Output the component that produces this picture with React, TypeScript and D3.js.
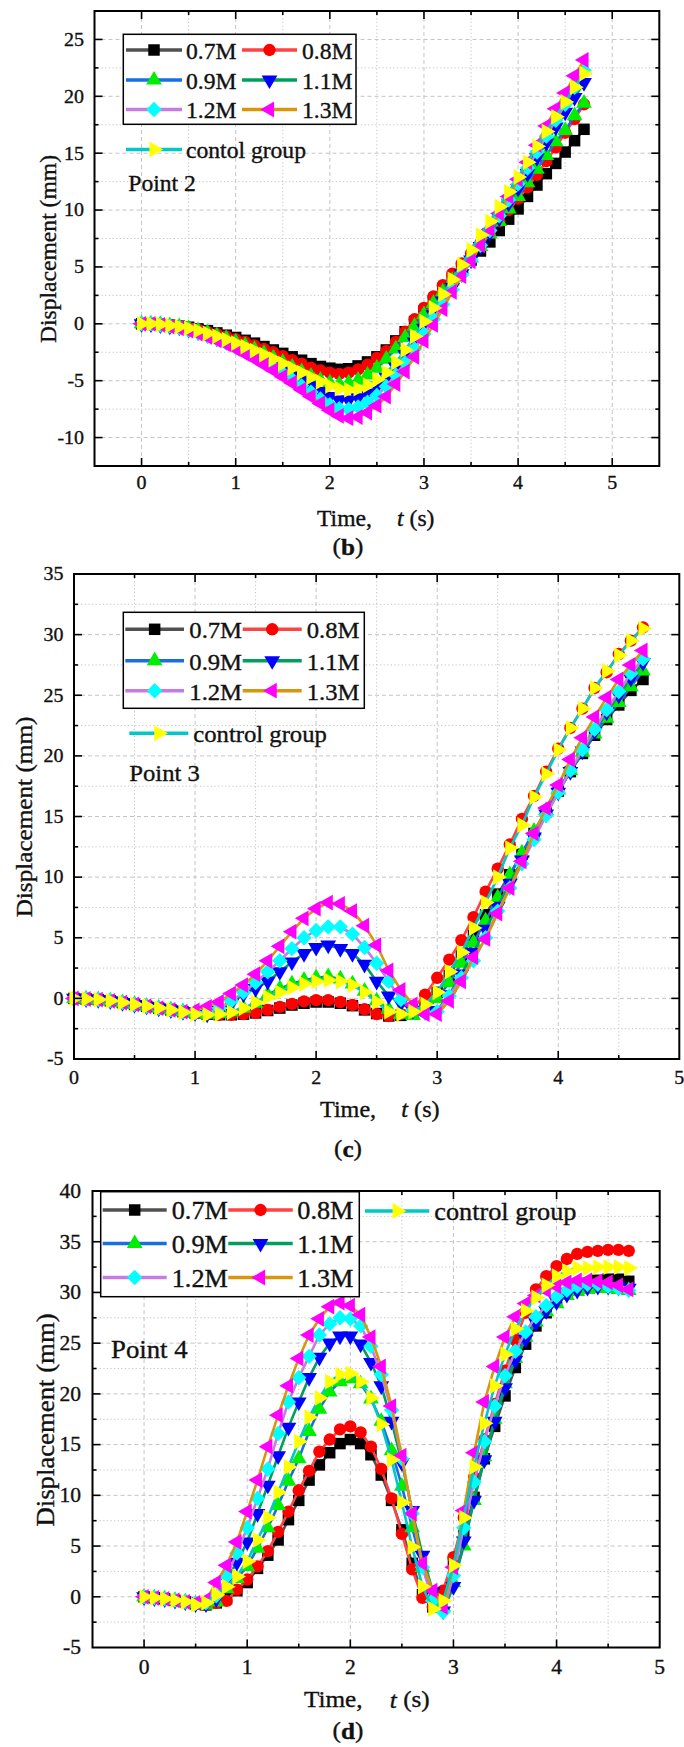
import React from 'react';
import * as d3 from 'd3';

const W = 684;
const H = 1747;
const FONT = '"Liberation Serif", "Times New Roman", Times, serif';
const INK = '#111111';
const SX = 1.05; // the source font is a little wider than Times

// sample times (s)
const timeS = [
  0, 0.1, 0.2, 0.3, 0.4, 0.5, 0.6, 0.7, 0.8, 0.9,
  1.0, 1.1, 1.2, 1.3, 1.4, 1.5, 1.6, 1.7, 1.8, 1.9,
  2.0, 2.1, 2.2, 2.3, 2.4, 2.5, 2.6, 2.7, 2.8, 2.9,
  3.0, 3.1, 3.2, 3.3, 3.4, 3.5, 3.6, 3.7, 3.8, 3.9,
  4.0, 4.1, 4.2, 4.3, 4.4, 4.5, 4.6, 4.7,
];

const namesP2 = ['0.7M', '0.8M', '0.9M', '1.1M', '1.2M', '1.3M', 'contol group'];
const namesP3 = ['0.7M', '0.8M', '0.9M', '1.1M', '1.2M', '1.3M', 'control group'];
const namesP4 = ['0.7M', '0.8M', '0.9M', '1.1M', '1.2M', '1.3M', 'control group'];

const xTicksB = [0, 1, 2, 3, 4, 5];
const xTicksC = [0, 1, 2, 3, 4, 5];
const xTicksD = [0, 1, 2, 3, 4, 5];
const yTicksB = [-10, -5, 0, 5, 10, 15, 20, 25];
const yTicksC = [-5, 0, 5, 10, 15, 20, 25, 30, 35];
const yTicksD = [-5, 0, 5, 10, 15, 20, 25, 30, 35, 40];

// Point 2 displacement (mm)
const p2M07 = [0, 0, -0.05, -0.1, -0.2, -0.3, -0.45, -0.6, -0.8, -1.0, -1.2, -1.45, -1.7, -2.0, -2.3, -2.6, -2.9, -3.2, -3.5, -3.75, -3.9, -4.0, -3.95, -3.7, -3.35, -2.9, -2.3, -1.5, -0.7, 0.2, 1.1, 2.0, 2.9, 3.8, 4.7, 5.6, 6.4, 7.2, 8.2, 9.2, 10.1, 11.2, 12.2, 13.2, 14.1, 15.1, 16.1, 17.1];
const p2M08 = [0, 0, -0.05, -0.1, -0.2, -0.35, -0.5, -0.7, -0.9, -1.1, -1.35, -1.6, -1.9, -2.2, -2.5, -2.85, -3.2, -3.5, -3.85, -4.1, -4.3, -4.4, -4.3, -4.0, -3.6, -3.0, -2.4, -1.6, -0.7, 0.4, 1.4, 2.4, 3.4, 4.4, 5.3, 6.2, 7.1, 8.0, 9.0, 10.0, 11.0, 12.0, 13.1, 14.3, 15.5, 16.8, 18.0, 19.3];
const p2M09 = [0, 0, -0.05, -0.15, -0.25, -0.4, -0.6, -0.8, -1.05, -1.3, -1.6, -1.9, -2.25, -2.6, -3.0, -3.4, -3.8, -4.2, -4.6, -4.95, -5.2, -5.3, -5.2, -4.95, -4.5, -3.9, -3.1, -2.2, -1.2, -0.2, 0.8, 1.8, 2.8, 3.8, 4.8, 5.8, 6.8, 7.9, 9.0, 10.1, 11.2, 12.4, 13.6, 14.8, 16.0, 17.0, 18.3, 19.4];
const p2M11 = [0, 0, -0.1, -0.2, -0.3, -0.5, -0.7, -0.95, -1.25, -1.55, -1.9, -2.25, -2.65, -3.05, -3.5, -3.95, -4.45, -4.95, -5.45, -5.95, -6.4, -6.7, -6.7, -6.5, -6.1, -5.5, -4.7, -3.8, -2.7, -1.6, -0.4, 0.8, 2.0, 3.2, 4.4, 5.6, 6.8, 8.0, 9.3, 10.6, 11.9, 13.2, 14.6, 15.9, 17.3, 18.6, 19.9, 21.2];
const p2M12 = [0, 0, -0.1, -0.2, -0.35, -0.55, -0.8, -1.05, -1.35, -1.7, -2.05, -2.45, -2.9, -3.35, -3.85, -4.35, -4.9, -5.45, -6.0, -6.6, -7.1, -7.45, -7.5, -7.3, -6.9, -6.3, -5.5, -4.5, -3.4, -2.2, -0.9, 0.4, 1.7, 3.0, 4.3, 5.6, 6.9, 8.2, 9.5, 10.9, 12.3, 13.7, 15.1, 16.5, 17.9, 19.3, 20.8, 22.3];
const p2M13 = [0, 0, -0.1, -0.25, -0.4, -0.6, -0.85, -1.15, -1.45, -1.8, -2.2, -2.65, -3.1, -3.6, -4.1, -4.65, -5.2, -5.8, -6.4, -7.0, -7.6, -8.1, -8.3, -8.2, -7.8, -7.2, -6.4, -5.3, -4.2, -2.9, -1.5, -0.1, 1.3, 2.8, 4.2, 5.5, 6.9, 8.3, 9.7, 11.2, 12.7, 14.2, 15.7, 17.4, 18.9, 20.3, 21.8, 23.2];
const p2Ctrl = [0, 0, -0.05, -0.15, -0.25, -0.4, -0.6, -0.85, -1.1, -1.4, -1.7, -2.0, -2.35, -2.7, -3.1, -3.5, -3.9, -4.3, -4.7, -5.1, -5.45, -5.7, -5.8, -5.7, -5.4, -4.9, -4.3, -3.4, -2.3, -1.1, 0.2, 1.4, 2.6, 3.9, 5.2, 6.5, 7.8, 9.0, 10.3, 11.6, 12.9, 14.2, 15.6, 16.9, 18.2, 19.5, 20.8, 22.0];

// Point 3 displacement (mm)
const p3M07 = [0, -0.05, -0.1, -0.2, -0.35, -0.5, -0.65, -0.8, -0.95, -1.1, -1.2, -1.3, -1.35, -1.35, -1.3, -1.2, -1.0, -0.8, -0.55, -0.4, -0.3, -0.3, -0.4, -0.6, -0.95, -1.25, -1.45, -1.4, -1.2, -0.6, 0.5, 1.9, 3.5, 5.2, 6.9, 8.6, 10.2, 11.9, 13.6, 15.4, 17.1, 18.7, 20.2, 21.7, 23.0, 24.2, 25.4, 26.3];
const p3M08 = [0, -0.05, -0.1, -0.2, -0.35, -0.5, -0.65, -0.8, -0.95, -1.1, -1.2, -1.3, -1.35, -1.35, -1.3, -1.2, -0.95, -0.7, -0.45, -0.25, -0.15, -0.15, -0.3, -0.55, -0.9, -1.3, -1.45, -1.3, -0.8, 0.3, 1.7, 3.2, 4.8, 6.7, 8.8, 10.7, 12.7, 14.8, 16.7, 18.7, 20.6, 22.3, 23.9, 25.6, 26.9, 28.4, 29.5, 30.6];
const p3M09 = [0, -0.05, -0.1, -0.2, -0.35, -0.5, -0.65, -0.8, -0.95, -1.1, -1.2, -1.3, -1.25, -1.1, -0.8, -0.4, 0.3, 0.8, 1.2, 1.5, 1.7, 1.8, 1.6, 1.2, 0.6, -0.2, -0.9, -1.3, -1.4, -1.0, 0.0, 1.3, 2.9, 4.6, 6.4, 8.3, 10.2, 12.0, 13.8, 15.5, 17.2, 18.8, 20.3, 21.8, 23.1, 24.4, 25.7, 27.0];
const p3M11 = [0, -0.05, -0.1, -0.2, -0.35, -0.5, -0.65, -0.8, -0.95, -1.1, -1.2, -1.3, -1.0, -0.4, 0.35, 0.8, 1.4, 2.2, 3.0, 3.7, 4.2, 4.4, 4.1, 3.7, 2.8, 1.4, 0.2, -0.4, -1.0, -1.1, -1.0, 0.3, 2.0, 3.8, 5.7, 7.6, 9.5, 11.4, 13.3, 15.2, 17.0, 18.7, 20.4, 22.0, 23.6, 25.0, 26.4, 27.7];
const p3M12 = [0, -0.05, -0.1, -0.2, -0.35, -0.5, -0.65, -0.8, -0.95, -1.1, -1.2, -1.2, -0.8, -0.2, 0.5, 1.3, 2.2, 3.1, 4.1, 5.0, 5.6, 5.9, 5.9, 5.3, 4.2, 2.9, 1.4, -0.1, -1.0, -1.2, -1.1, 0.2, 1.7, 3.1, 5.0, 7.2, 9.1, 11.1, 13.1, 15.1, 17.0, 18.8, 20.5, 22.2, 23.8, 25.3, 26.8, 28.0];
const p3M13 = [0, -0.05, -0.1, -0.2, -0.35, -0.5, -0.65, -0.8, -0.95, -1.1, -1.0, -0.7, -0.3, 0.4, 1.1, 2.0, 3.1, 4.3, 5.5, 6.6, 7.4, 7.9, 7.8, 7.2, 6.0, 4.4, 2.3, 0.7, -0.5, -1.3, -1.3, -0.2, 1.4, 3.4, 4.9, 7.0, 9.1, 11.3, 13.6, 15.7, 17.6, 19.7, 21.5, 23.2, 24.8, 26.3, 27.5, 28.7];
const p3Ctrl = [0, -0.05, -0.1, -0.2, -0.35, -0.5, -0.65, -0.8, -0.95, -1.15, -1.3, -1.35, -1.3, -1.15, -0.8, -0.35, 0.1, 0.5, 0.9, 1.2, 1.4, 1.5, 1.4, 1.1, 0.5, -0.3, -1.1, -1.3, -1.1, -0.5, 0.5, 2.2, 3.8, 5.8, 7.9, 10.0, 12.4, 14.3, 16.6, 18.5, 20.5, 22.3, 23.9, 25.6, 27.0, 28.3, 29.5, 30.5];

// Point 4 displacement (mm)
const p4M07 = [0, -0.1, -0.2, -0.35, -0.5, -0.7, -0.8, -0.6, -0.2, 0.6, 1.4, 2.8, 4.1, 5.6, 7.6, 9.5, 11.5, 13.0, 14.2, 15.1, 15.5, 15.1, 14.0, 12.0, 9.5, 6.6, 3.3, 0.2, -1.0, 0.2, 3.3, 6.2, 9.8, 13.6, 16.8, 19.8, 22.6, 24.9, 26.7, 28.0, 29.1, 29.9, 30.5, 30.9, 31.2, 31.3, 31.3, 31.1];
const p4M08 = [0, -0.1, -0.2, -0.35, -0.5, -0.7, -0.8, -0.6, -0.4, 0.7, 1.7, 3.0, 4.5, 6.4, 8.4, 10.5, 12.4, 14.3, 15.5, 16.5, 16.8, 16.2, 14.8, 12.6, 9.7, 6.2, 2.7, -0.1, -1.0, 0.6, 3.9, 7.8, 11.8, 15.5, 19.0, 22.3, 25.3, 28.0, 30.3, 31.6, 32.6, 33.3, 33.8, 34.0, 34.1, 34.2, 34.2, 34.1];
const p4M09 = [0, -0.1, -0.2, -0.35, -0.5, -0.7, -0.8, -0.5, 0.8, 1.8, 3.0, 4.8, 6.8, 9.0, 11.4, 13.6, 16.3, 18.5, 20.2, 21.2, 21.5, 21.0, 19.5, 17.3, 14.4, 10.9, 6.8, 2.9, 0.0, -1.0, 1.4, 5.0, 9.5, 13.8, 17.5, 21.0, 23.5, 25.6, 27.1, 28.1, 28.9, 29.7, 30.1, 30.3, 30.4, 30.4, 30.3, 30.2];
const p4M11 = [0, -0.1, -0.2, -0.35, -0.5, -0.7, -0.7, -0.2, 1.7, 3.4, 5.4, 8.2, 11.0, 13.9, 16.7, 19.2, 21.6, 23.6, 25.0, 25.7, 25.7, 24.9, 23.1, 20.8, 17.3, 13.2, 8.5, 4.1, 0.5, -1.4, 1.0, 5.5, 9.5, 13.5, 17.3, 20.6, 23.3, 25.4, 27.0, 28.2, 29.1, 29.8, 30.2, 30.5, 30.6, 30.6, 30.5, 30.4];
const p4M12 = [0, -0.1, -0.2, -0.35, -0.5, -0.65, -0.6, 0.1, 2.0, 4.3, 6.8, 9.7, 12.6, 16.1, 19.2, 21.6, 23.7, 25.8, 26.9, 27.5, 27.4, 26.7, 24.7, 21.9, 18.4, 13.6, 8.2, 2.9, -0.4, -1.5, 2.1, 6.8, 11.3, 15.3, 18.8, 21.8, 24.2, 26.1, 27.6, 28.7, 29.6, 30.2, 30.6, 30.8, 30.8, 30.6, 30.4, 30.2];
const p4M13 = [0, -0.1, -0.2, -0.35, -0.5, -0.6, -0.3, 1.4, 3.1, 5.4, 8.4, 11.5, 14.8, 17.9, 20.8, 23.5, 25.8, 27.4, 28.6, 29.0, 28.7, 27.8, 25.6, 22.7, 18.8, 13.9, 8.2, 3.3, 0.6, -1.0, 2.9, 8.5, 14.2, 19.2, 22.7, 25.6, 27.6, 28.9, 29.7, 30.2, 30.6, 31.0, 31.2, 31.2, 31.1, 31.0, 30.7, 30.3];
const p4Ctrl = [0, -0.1, -0.2, -0.35, -0.5, -0.8, -0.6, 0.2, 1.0, 2.0, 3.5, 5.6, 7.8, 10.3, 12.8, 15.3, 17.7, 19.6, 21.2, 21.9, 22.0, 21.2, 19.6, 17.0, 13.5, 9.3, 4.9, 1.0, -1.2, -0.4, 3.1, 7.8, 12.8, 17.1, 20.8, 23.9, 26.4, 28.2, 29.5, 30.7, 31.6, 32.1, 32.4, 32.4, 32.5, 32.5, 32.5, 32.4];

const point2 = [p2M07, p2M08, p2M09, p2M11, p2M12, p2M13, p2Ctrl];
const point3 = [p3M07, p3M08, p3M09, p3M11, p3M12, p3M13, p3Ctrl];
const point4 = [p4M07, p4M08, p4M09, p4M11, p4M12, p4M13, p4Ctrl];

// line colour, symbol colour, symbol shape per series
const seriesStyle = [
  { line: '#505050', fill: '#000000', shape: 'square' },
  { line: '#ff4242', fill: '#ff0000', shape: 'circle' },
  { line: '#1a6fe0', fill: '#00ee00', shape: 'up' },
  { line: '#00a05c', fill: '#0000ff', shape: 'down' },
  { line: '#c67be0', fill: '#00ffff', shape: 'diamond' },
  { line: '#d8960c', fill: '#ff00ff', shape: 'left' },
  { line: '#00c8c8', fill: '#ffff00', shape: 'right' },
];

const symPaths: Record<string, [string, number]> = {
  square: [d3.symbol(d3.symbolSquare, 132)() as string, 0],
  circle: [d3.symbol(d3.symbolCircle, 120)() as string, 0],
  up: [d3.symbol(d3.symbolTriangle, 108)() as string, 0],
  down: [d3.symbol(d3.symbolTriangle, 108)() as string, 180],
  diamond: [d3.symbol(d3.symbolSquare, 118)() as string, 45],
  left: [d3.symbol(d3.symbolTriangle, 108)() as string, -90],
  right: [d3.symbol(d3.symbolTriangle, 108)() as string, 90],
};

function Marker({ shape, x, y, fill }: any) {
  const [d, rot] = symPaths[shape];
  return <path d={d} transform={`translate(${x},${y}) rotate(${rot})`} fill={fill} />;
}

function Label({ x, y, size, anchor = 'start', rotate = 0, children }: any) {
  return (
    <text
      transform={`translate(${x},${y}) rotate(${rotate}) scale(${SX},1)`}
      fontSize={size}
      fontFamily={FONT}
      textAnchor={anchor}
      dominantBaseline="central"
      fill={INK}
      stroke={INK}
      strokeWidth={0.35}
    >
      {children}
    </text>
  );
}

const panelB = {
  frame: { x0: 94.5, x1: 659.3, y0: 11, y1: 466 },
  xDom: [-0.5, 5.5], yDom: [-12.5, 27.5],
  xTicks: xTicksB, yTicks: yTicksB,
  tickSize: 19, yLabelX: 84, xLabelY: 483,
  xTitle: { x: 317, y: 518, size: 22.5, gap: 24 },
  yTitle: { x: 48, y: 249, size: 22.5 },
  caption: { x: 348, y: 546, text: 'b' },
  point: { x: 128.3, y: 182.7, size: 22.5, text: 'Point 2' },
  legendSize: 22.5,
  box: [123.3, 34.3, 356, 124.3],
  legend: [
    { lx: [126, 182], y: 50, tx: 186 },
    { lx: [242, 297], y: 50, tx: 302 },
    { lx: [126, 182], y: 80, tx: 186 },
    { lx: [242, 297], y: 80, tx: 302 },
    { lx: [126, 182], y: 109.5, tx: 186 },
    { lx: [242, 297], y: 109.5, tx: 302 },
    { lx: [126, 182], y: 149.5, tx: 186 },
  ],
};

const panelC = {
  frame: { x0: 74, x1: 679.3, y0: 574, y1: 1059 },
  xDom: [0, 5], yDom: [-5, 35],
  xTicks: xTicksC, yTicks: yTicksC,
  tickSize: 19, yLabelX: 63.5, xLabelY: 1078,
  xTitle: { x: 320, y: 1109, size: 23, gap: 24 },
  yTitle: { x: 24, y: 817, size: 24 },
  caption: { x: 348, y: 1148, text: 'c' },
  point: { x: 129.3, y: 772.7, size: 23.5, text: 'Point 3' },
  legendSize: 23.5,
  box: [123.3, 612.3, 364.3, 708.3],
  legend: [
    { lx: [125.3, 184], y: 629.3, tx: 189.3 },
    { lx: [242.7, 301.7], y: 629.3, tx: 306.7 },
    { lx: [125.3, 184], y: 660.7, tx: 189.3 },
    { lx: [242.7, 301.7], y: 660.7, tx: 306.7 },
    { lx: [125.3, 184], y: 690.7, tx: 189.3 },
    { lx: [242.7, 301.7], y: 690.7, tx: 306.7 },
    { lx: [129.3, 188.3], y: 733.3, tx: 193.3 },
  ],
};

const panelD = {
  frame: { x0: 92.5, x1: 659.7, y0: 1191, y1: 1647.5 },
  xDom: [-0.5, 5], yDom: [-5, 40],
  xTicks: xTicksD, yTicks: yTicksD,
  tickSize: 20.5, yLabelX: 81, xLabelY: 1667,
  xTitle: { x: 304, y: 1699, size: 24, gap: 26 },
  yTitle: { x: 46, y: 1420, size: 25.5 },
  caption: { x: 348, y: 1730, text: 'd' },
  point: { x: 111, y: 1350, size: 25.5, text: 'Point 4' },
  legendSize: 25,
  box: [100.7, 1191.7, 359.3, 1296.7],
  legend: [
    { lx: [102.7, 166.7], y: 1210, tx: 171.7 },
    { lx: [228.3, 292.7], y: 1210, tx: 297.3 },
    { lx: [102.7, 166.7], y: 1243.5, tx: 171.7 },
    { lx: [228.3, 292.7], y: 1243.5, tx: 297.3 },
    { lx: [102.7, 166.7], y: 1277.5, tx: 171.7 },
    { lx: [228.3, 292.7], y: 1277.5, tx: 297.3 },
    { lx: [365, 429.3], y: 1211, tx: 434.3 },
  ],
};

function Panel({ cfg, data, names }: any) {
  const f = cfg.frame;
  const x = d3.scaleLinear().domain(cfg.xDom).range([f.x0, f.x1]);
  const y = d3.scaleLinear().domain(cfg.yDom).range([f.y1, f.y0]);
  const eps = 1e-6;
  const inside = (v: number, dom: number[]) => v > dom[0] + eps && v < dom[1] - eps;

  const xMajor = cfg.xTicks.filter((v: number) => inside(v, cfg.xDom));
  const yMajor = cfg.yTicks.filter((v: number) => inside(v, cfg.yDom));
  const xMinor = d3.range(Math.ceil(cfg.xDom[0] * 2) / 2, cfg.xDom[1] + eps, 0.5)
    .filter((v) => inside(v, cfg.xDom) && !cfg.xTicks.includes(v));
  const yMinor = d3.range(Math.ceil(cfg.yDom[0] / 2.5) * 2.5, cfg.yDom[1] + eps, 2.5)
    .filter((v) => inside(v, cfg.yDom) && !cfg.yTicks.includes(v));

  const line = d3.line<number>()
    .x((_, i) => x(timeS[i]))
    .y((d) => y(d));

  const gridCol = '#c4c4c4';
  const majorLen = 8;
  const minorLen = 4;

  return (
    <g>
      {/* grid */}
      {xMajor.map((v: number) => (
        <line key={'gx' + v} x1={x(v)} x2={x(v)} y1={f.y0} y2={f.y1} stroke={gridCol} strokeWidth={1} strokeDasharray="4 3" />
      ))}
      {yMajor.map((v: number) => (
        <line key={'gy' + v} x1={f.x0} x2={f.x1} y1={y(v)} y2={y(v)} stroke={gridCol} strokeWidth={1} strokeDasharray="4 3" />
      ))}
      {xMinor.map((v: number) => (
        <line key={'mx' + v} x1={x(v)} x2={x(v)} y1={f.y0} y2={f.y1} stroke={gridCol} strokeWidth={1} strokeDasharray="1.2 2.4" />
      ))}
      {yMinor.map((v: number) => (
        <line key={'my' + v} x1={f.x0} x2={f.x1} y1={y(v)} y2={y(v)} stroke={gridCol} strokeWidth={1} strokeDasharray="1.2 2.4" />
      ))}

      {/* series */}
      {data.map((vals: number[], si: number) => {
        const st = seriesStyle[si];
        return (
          <g key={'s' + si}>
            <path d={line(vals) as string} fill="none" stroke={st.line} strokeWidth={2.6} />
            {vals.map((v, i) => (
              <Marker key={i} shape={st.shape} x={x(timeS[i])} y={y(v)} fill={st.fill} />
            ))}
          </g>
        );
      })}

      {/* frame and inward ticks */}
      <rect x={f.x0} y={f.y0} width={f.x1 - f.x0} height={f.y1 - f.y0} fill="none" stroke="#000" strokeWidth={2} />
      {xMajor.map((v: number) => (
        <g key={'tx' + v} stroke="#000" strokeWidth={1.6}>
          <line x1={x(v)} x2={x(v)} y1={f.y1} y2={f.y1 - majorLen} />
          <line x1={x(v)} x2={x(v)} y1={f.y0} y2={f.y0 + majorLen} />
        </g>
      ))}
      {xMinor.map((v: number) => (
        <g key={'tmx' + v} stroke="#000" strokeWidth={1.6}>
          <line x1={x(v)} x2={x(v)} y1={f.y1} y2={f.y1 - minorLen} />
          <line x1={x(v)} x2={x(v)} y1={f.y0} y2={f.y0 + minorLen} />
        </g>
      ))}
      {yMajor.map((v: number) => (
        <g key={'ty' + v} stroke="#000" strokeWidth={1.6}>
          <line x1={f.x0} x2={f.x0 + majorLen} y1={y(v)} y2={y(v)} />
          <line x1={f.x1} x2={f.x1 - majorLen} y1={y(v)} y2={y(v)} />
        </g>
      ))}
      {yMinor.map((v: number) => (
        <g key={'tmy' + v} stroke="#000" strokeWidth={1.6}>
          <line x1={f.x0} x2={f.x0 + minorLen} y1={y(v)} y2={y(v)} />
          <line x1={f.x1} x2={f.x1 - minorLen} y1={y(v)} y2={y(v)} />
        </g>
      ))}

      {/* tick labels */}
      {cfg.xTicks.map((v: number) => (
        <Label key={'lx' + v} x={x(v)} y={cfg.xLabelY} size={cfg.tickSize} anchor="middle">{String(v)}</Label>
      ))}
      {cfg.yTicks.map((v: number) => (
        <Label key={'ly' + v} x={cfg.yLabelX} y={y(v)} size={cfg.tickSize} anchor="end">{String(v)}</Label>
      ))}

      {/* axis titles */}
      <Label x={cfg.xTitle.x} y={cfg.xTitle.y} size={cfg.xTitle.size}>
        Time,<tspan dx={cfg.xTitle.gap} fontStyle="italic">t</tspan> (s)
      </Label>
      <Label x={cfg.yTitle.x} y={cfg.yTitle.y} size={cfg.yTitle.size} anchor="middle" rotate={-90}>
        Displacement (mm)
      </Label>
      <Label x={cfg.caption.x} y={cfg.caption.y} size={24} anchor="middle">
        (<tspan fontWeight="bold">{cfg.caption.text}</tspan>)
      </Label>

      {/* legend */}
      <rect x={cfg.box[0]} y={cfg.box[1]} width={cfg.box[2] - cfg.box[0]} height={cfg.box[3] - cfg.box[1]} fill="#fff" stroke="#000" strokeWidth={1.5} />
      {cfg.legend.map((it: any, si: number) => {
        const st = seriesStyle[si];
        return (
          <g key={'lg' + si}>
            <line x1={it.lx[0]} x2={it.lx[1]} y1={it.y} y2={it.y} stroke={st.line} strokeWidth={3.4} />
            <Marker shape={st.shape} x={(it.lx[0] + it.lx[1]) / 2} y={it.y} fill={st.fill} />
            <Label x={it.tx} y={it.y + 1} size={cfg.legendSize}>{names[si]}</Label>
          </g>
        );
      })}
      <Label x={cfg.point.x} y={cfg.point.y} size={cfg.point.size}>{cfg.point.text}</Label>
    </g>
  );
}

export default function App() {
  return (
    <svg
      width={W}
      height={H}
      viewBox={`0 0 ${W} ${H}`}
      style={{ position: 'absolute', left: 0, top: 0, background: '#fff' }}
    >
      <rect x={0} y={0} width={W} height={H} fill="#fff" />
      <Panel cfg={panelB} data={point2} names={namesP2} />
      <Panel cfg={panelC} data={point3} names={namesP3} />
      <Panel cfg={panelD} data={point4} names={namesP4} />
    </svg>
  );
}
